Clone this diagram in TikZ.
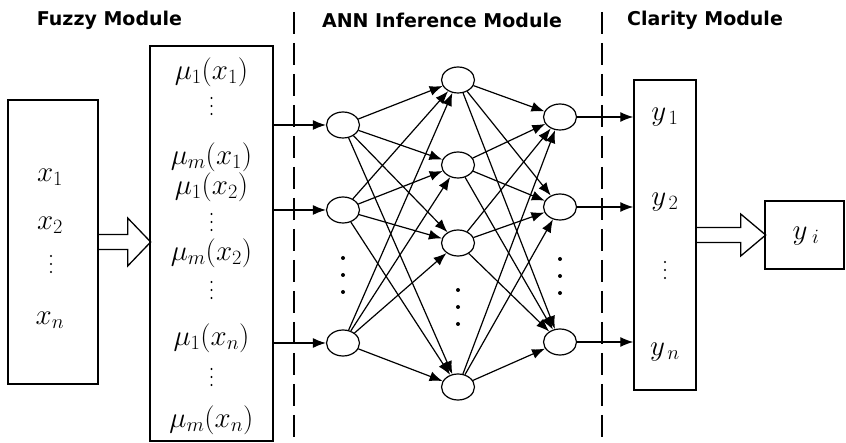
\RequirePackage{fix-cm}
\documentclass[tikz,border=0pt]{standalone}
\usepackage{fontspec}
\newfontfamily\headfont{DejaVu Sans}
\usetikzlibrary{arrows.meta,shapes.geometric}
\tikzset{
  neuron/.style={draw, ellipse, line width=1.2pt, minimum width=33pt, minimum height=26pt, inner sep=0pt},
  modbox/.style={draw, line width=1.4pt, inner sep=0pt},
  conn/.style={line width=1.2pt, -{Latex[length=13pt,width=10pt]}},
  head/.style={font=\headfont\bfseries\fontsize{19}{22}\selectfont},
  lab/.style={font=\fontsize{29}{32}\selectfont, inner sep=0pt},
  sepline/.style={line width=1.3pt, dash pattern=on 22pt off 9pt},
  hollow/.style={line width=1.3pt, line join=miter}
}
\newcommand\dotcol[4]{\foreach \k in {-1,0,1} \fill (#1,{#2+\k*#3}) circle (#4);}
\begin{document}
\begin{tikzpicture}[x=1pt,y=-1pt]
\useasboundingbox (0,0) rectangle (846,443);
% headings
\node[head] (hfuzzy) at (109.5,20){Fuzzy Module};
\node[head] (hann) at (442,20){ANN Inference Module};
\node[head] (hclar) at (705,20){Clarity Module};
% module borders
\draw[sepline] (294,12) -- (294,443);
\draw[sepline] (602,12) -- (602,443);
% boxes
\node[modbox, minimum width=90pt, minimum height=284pt] (inbox) at (53,242){};
\node[modbox, minimum width=123pt, minimum height=395pt] (fuzzbox) at (211.5,243.5){};
\node[modbox, minimum width=62pt, minimum height=310pt] (clarbox) at (665,235){};
\node[modbox, minimum width=79pt, minimum height=68pt] (ybox) at (804.5,235){};
% input box
\node[lab] (x1) at (50,177){$x_1$};
\node[lab] (x2) at (50,225){$x_2$};
\dotcol{51}{264}{8}{1.2pt}
\node[lab] (xn) at (50,320){$x_n$};
% fuzzy box
\node[lab] (mu11) at (211.5,72){$\mu_1(x_1)$};
\dotcol{211.5}{106}{8}{1.2pt}
\node[lab] (mum1) at (211.5,157){$\mu_m(x_1)$};
\node[lab] (mu12) at (211.5,187){$\mu_1(x_2)$};
\dotcol{211.5}{222}{8}{1.2pt}
\node[lab] (mum2) at (211.5,253){$\mu_m(x_2)$};
\dotcol{211.5}{290}{8}{1.2pt}
\node[lab] (mu1n) at (211.5,338){$\mu_1(x_n)$};
\dotcol{211.5}{377}{8}{1.2pt}
\node[lab] (mumn) at (211.5,420){$\mu_m(x_n)$};
% clarity box
\node[lab] (y1) at (665,117){$y_{\,1}$};
\node[lab] (y2) at (665,202){$y_{\,2}$};
\dotcol{665}{270}{8}{1.2pt}
\node[lab] (yn) at (665,352){$y_{\,n}$};
\node[lab] (yi) at (806,236){$y_{\;i}$};
% hollow arrows
\draw[hollow] (inbox.east) ++(0,-7.5) -- ++(29,0) -- ++(0,-16.5) -- ++(23,24) -- ++(-23,24) -- ++(0,-16.5) -- ++(-29,0);
\draw[hollow] (clarbox.east) ++(0,-7.5) -- ++(44,0) -- ++(0,-13.5) -- ++(25,21) -- ++(-25,21) -- ++(0,-13.5) -- ++(-44,0);
% network
\node[neuron] (in0) at (343,125){};
\node[neuron] (in1) at (343,210){};
\node[neuron] (in2) at (343,343){};
\dotcol{343}{275}{17}{2pt}
\node[neuron] (hid0) at (458,80){};
\node[neuron] (hid1) at (458,165){};
\node[neuron] (hid2) at (458,243){};
\node[neuron] (hid3) at (458,387){};
\dotcol{458}{307}{17}{2pt}
\node[neuron] (out0) at (560,117){};
\node[neuron] (out1) at (560,207){};
\node[neuron] (out2) at (560,342){};
\dotcol{560}{276}{17}{2pt}
\draw[conn](fuzzbox.east |- in0) -- (in0);
\draw[conn](fuzzbox.east |- in1) -- (in1);
\draw[conn](fuzzbox.east |- in2) -- (in2);
\draw[conn](in0) -- (hid0);
\draw[conn](in0) -- (hid1);
\draw[conn](in0) -- (hid2);
\draw[conn](in0) -- (hid3);
\draw[conn](in1) -- (hid0);
\draw[conn](in1) -- (hid1);
\draw[conn](in1) -- (hid2);
\draw[conn](in1) -- (hid3);
\draw[conn](in2) -- (hid0);
\draw[conn](in2) -- (hid1);
\draw[conn](in2) -- (hid2);
\draw[conn](in2) -- (hid3);
\draw[conn](hid0) -- (out0);
\draw[conn](hid0) -- (out1);
\draw[conn](hid0) -- (out2);
\draw[conn](hid1) -- (out0);
\draw[conn](hid1) -- (out1);
\draw[conn](hid1) -- (out2);
\draw[conn](hid2) -- (out0);
\draw[conn](hid2) -- (out1);
\draw[conn](hid2) -- (out2);
\draw[conn](hid3) -- (out0);
\draw[conn](hid3) -- (out1);
\draw[conn](hid3) -- (out2);
\draw[conn](out0) -- (clarbox.west |- out0);
\draw[conn](out1) -- (clarbox.west |- out1);
\draw[conn](out2) -- (clarbox.west |- out2);
\end{tikzpicture}
\end{document}
